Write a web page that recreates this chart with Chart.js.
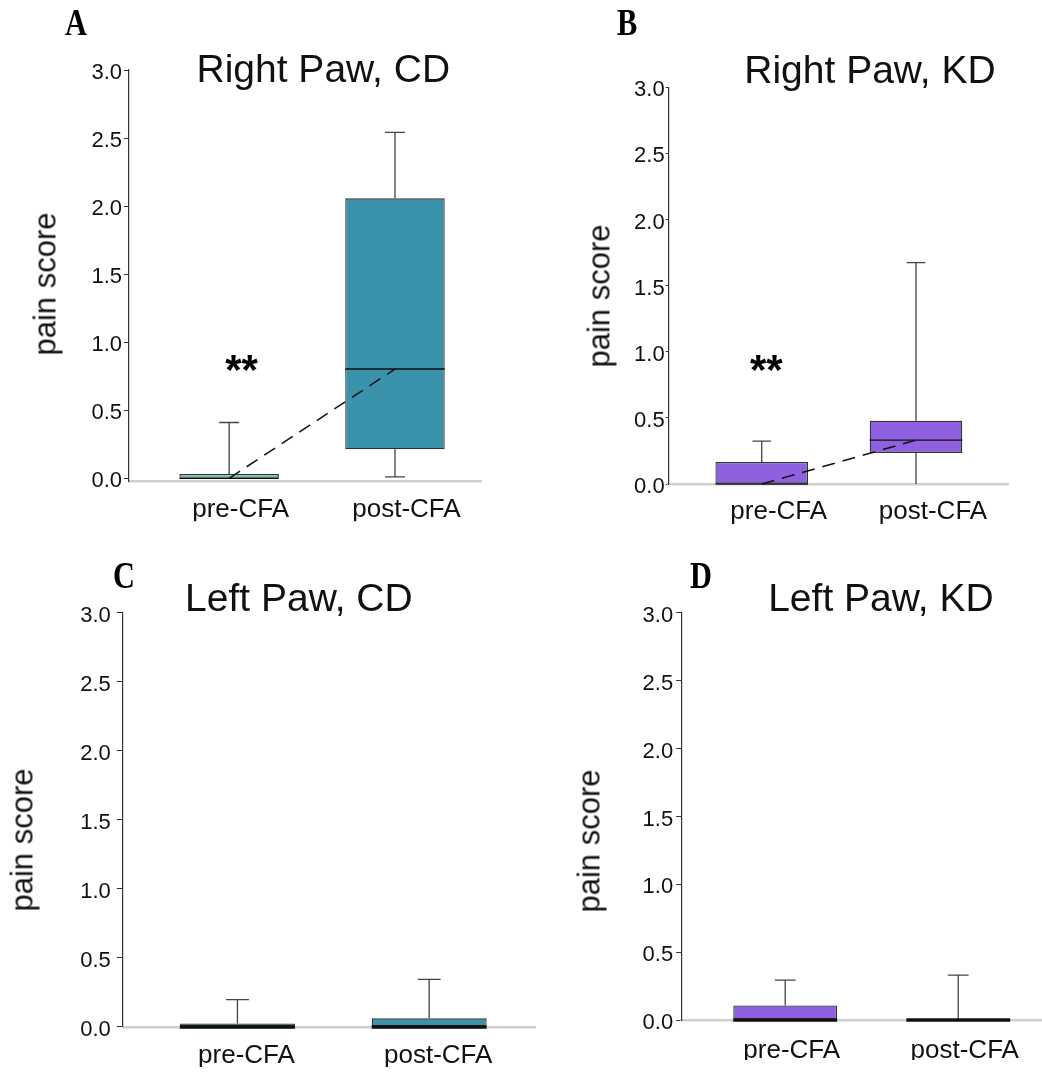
<!DOCTYPE html>
<html>
<head>
<meta charset="utf-8">
<script src="https://cdn.jsdelivr.net/npm/chart.js@4.4.1/dist/chart.umd.min.js"></script>
<style>
html,body{margin:0;padding:0;background:#fff;}
body{width:1042px;height:1072px;position:relative;overflow:hidden;font-family:'Liberation Sans',Arial,sans-serif;}
canvas{position:absolute;}
.title{position:absolute;font-size:39px;line-height:39px;white-space:nowrap;color:#111;transform:translateX(-50%);}
.letter{position:absolute;font-family:'Liberation Serif','Times New Roman',serif;font-weight:bold;font-size:37px;line-height:37px;transform-origin:0 0;transform:scaleX(0.82);color:#000;}
.ylab{position:absolute;font-size:31px;line-height:31px;white-space:nowrap;color:#111;transform:translate(-50%,-50%) rotate(-90deg);}
</style>
</head>
<body>
<script>
// ---------------- data ----------------
const categories = ['pre-CFA', 'post-CFA'];
const panelTitles = ['Right Paw, CD', 'Right Paw, KD', 'Left Paw, CD', 'Left Paw, KD'];
const panelLetters = ['A', 'B', 'C', 'D'];
const yAxisTitle = 'pain score';
const yTickValues = [0, 0.5, 1.0, 1.5, 2.0, 2.5, 3.0];
// box-plot summaries, one row per panel, [pre-CFA, post-CFA]
const whiskerLow  = [[0, 0.01], [0, 0], [0, 0], [0, 0]];
const quartile1   = [[0, 0.213], [0, 0.235], [0, 0], [0, 0]];
const medians     = [[0, 0.803], [0, 0.332], [0, 0], [0, 0]];
const quartile3   = [[0.032, 2.057], [0.166, 0.478], [0.025, 0.062], [0.108, 0]];
const whiskerHigh = [[0.41, 2.542], [0.324, 1.673], [0.197, 0.344], [0.295, 0.332]];
const sigText  = ['**', '**', null, null];
const sigX     = [1.075, 1.03, null, null];
const sigY     = [0.857, 0.918, null, null];
const showTrend = [true, true, false, false];

// ---------------- styles / layout ----------------
const MINT = '#68d2a9', TEAL = '#3a93aa', PURPLE = '#8f61e0';
const boxColors = [[MINT, TEAL], [PURPLE, PURPLE], [TEAL, TEAL], [PURPLE, PURPLE]];
const medianWidth = [1.3, 1.3, 3.5, 3.5];
const FONT = "'Liberation Sans', Arial, sans-serif";
const BAR_FRAC = 0.6, CAP_HALF = 0.06;
const YW = 70, XH = 40;
const layoutCfg = [
  {rect:[0,0,520,540],    area:[129,70,481.7,481.3],     ymin:-0.022, xmin:0.396, xmax:2.523, tickLen:5, tickPad:2, labelOffset:11.5, xPad:13,
   title:[323.3,48.7], letter:[65,4], ylab:[44.8,284]},
  {rect:[520,0,522,540],  area:[668.7,87.2,1008.4,484],  ymin:0, xmin:0.397, xmax:2.599, tickLen:3, tickPad:1, labelOffset:17, xPad:12,
   title:[870,49.8], letter:[616.7,4], ylab:[599.3,295.8]},
  {rect:[0,540,540,532],  area:[122.8,612.9,535,1026.9], ymin:0, xmin:0.402, xmax:2.552, tickLen:6, tickPad:6, labelOffset:9, xPad:13,
   title:[298.9,578.2], letter:[113.3,557], ylab:[21.9,840.3]},
  {rect:[520,540,522,532],area:[681.2,612.9,1042,1020.1], ymin:0, xmin:0.399, xmax:2.484, tickLen:5, tickPad:3, labelOffset:6.5, xPad:15,
   title:[880.9,577.6], letter:[690,556.7], ylab:[589.3,841]}
];

const sigPlugin = {
  id: 'sig',
  afterDatasetsDraw(chart, args, opts) {
    if (!opts.text) return;
    const {ctx} = chart, x = chart.scales.x, y = chart.scales.y;
    const size = 42;
    ctx.save();
    ctx.font = 'bold ' + size + 'px ' + FONT;
    ctx.fillStyle = '#000';
    ctx.textAlign = 'center';
    ctx.textBaseline = 'alphabetic';
    ctx.fillText(opts.text, x.getPixelForValue(opts.x), y.getPixelForValue(opts.y) + 0.52 * size);
    ctx.restore();
  }
};

function addDiv(cls, text, left, top) {
  const d = document.createElement('div');
  d.className = cls; d.textContent = text;
  d.style.left = left + 'px'; d.style.top = top + 'px';
  document.body.appendChild(d);
}

layoutCfg.forEach((L, p) => {
  const [rx, ry, rw, rh] = L.rect;
  const [al, at, ar, ab] = L.area;
  const cv = document.createElement('canvas');
  cv.width = rw; cv.height = rh;
  cv.style.left = rx + 'px'; cv.style.top = ry + 'px';
  cv.style.width = rw + 'px'; cv.style.height = rh + 'px';
  document.body.appendChild(cv);

  // whisker segments
  const whisk = [];
  categories.forEach((c, i) => {
    const cx = i + 1;
    if (whiskerHigh[p][i] > quartile3[p][i]) {
      whisk.push({x:cx, y:quartile3[p][i]}, {x:cx, y:whiskerHigh[p][i]}, {x:cx, y:null});
      whisk.push({x:cx-CAP_HALF, y:whiskerHigh[p][i]}, {x:cx+CAP_HALF, y:whiskerHigh[p][i]}, {x:cx, y:null});
    }
    if (whiskerLow[p][i] < quartile1[p][i]) {
      whisk.push({x:cx, y:quartile1[p][i]}, {x:cx, y:whiskerLow[p][i]}, {x:cx, y:null});
      if (whiskerLow[p][i] > 0)
        whisk.push({x:cx-CAP_HALF, y:whiskerLow[p][i]}, {x:cx+CAP_HALF, y:whiskerLow[p][i]}, {x:cx, y:null});
    }
  });
  const med = [];
  categories.forEach((c, i) => {
    med.push({x:i+1-BAR_FRAC/2, y:medians[p][i]}, {x:i+1+BAR_FRAC/2, y:medians[p][i]}, {x:i+1, y:null});
  });

  const datasets = [
    {type:'bar', data: categories.map((c,i)=>({x:i+1, y:[quartile1[p][i], quartile3[p][i]]})),
     backgroundColor: boxColors[p], borderColor:'#2e3436', borderWidth:1.3, borderSkipped:false,
     barPercentage: BAR_FRAC, categoryPercentage: 1, order:3, clip:false},
    {type:'line', data: whisk, borderColor:'#444', borderWidth:1.3, pointRadius:0, fill:false,
     tension:0, spanGaps:false, order:2, clip:false},
    {type:'line', data: med, borderColor:'#111', borderWidth: medianWidth[p], pointRadius:0, fill:false,
     tension:0, spanGaps:false, order:1, clip:false}
  ];
  if (showTrend[p]) {
    datasets.push({type:'line', data: categories.map((c,i)=>({x:i+1, y:medians[p][i]})),
      borderColor:'#111', borderWidth:1.5, borderDash:[13,8], pointRadius:0, fill:false,
      tension:0, order:0, clip:false});
  }

  new Chart(cv, {
    type: 'bar',
    data: {datasets},
    options: {
      responsive:false, animation:false, events:[],
      layout:{padding:{left: al - rx - YW, top: at - ry, right: rx + rw - ar, bottom: ry + rh - XH - ab}},
      plugins:{legend:{display:false}, tooltip:{enabled:false}, title:{display:false},
        sig: {text: sigText[p], x: sigX[p], y: sigY[p]}},
      scales:{
        x:{type:'linear', min:L.xmin, max:L.xmax, offset:false,
           afterBuildTicks: s => { s.ticks = categories.map((c,i)=>({value:i+1})); },
           afterFit: s => { s.height = XH; },
           ticks:{callback: v => categories[Math.round(v)-1], font:{family:FONT, size:26}, color:'#111',
                  padding:L.xPad, labelOffset:L.labelOffset, maxRotation:0, autoSkip:false},
           grid:{display:false, drawTicks:false},
           border:{display:true, color:'#cfcfcf', width:2.5}},
        y:{type:'linear', min:L.ymin, max:3,
           afterBuildTicks: s => { s.ticks = yTickValues.map(v=>({value:v})); },
           afterFit: s => { s.width = YW; },
           ticks:{callback: v => Number(v).toFixed(1), font:{family:FONT, size:22}, color:'#111',
                  padding:L.tickPad, labelOffset:3},
           grid:{display:true, drawOnChartArea:false, drawTicks:true, tickLength:L.tickLen, color:'#333', lineWidth:1},
           border:{display:true, color:'#333', width:1.2}}
      }
    },
    plugins:[sigPlugin]
  });

  addDiv('title', panelTitles[p], L.title[0], L.title[1]);
  addDiv('letter', panelLetters[p], L.letter[0], L.letter[1]);
  addDiv('ylab', yAxisTitle, L.ylab[0], L.ylab[1]);
});
</script>
</body>
</html>
